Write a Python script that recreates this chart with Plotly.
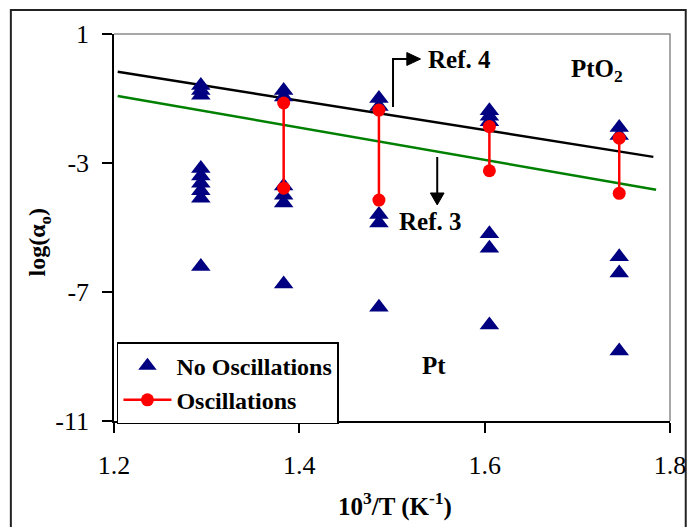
import plotly.graph_objects as go

# ---------------- data ----------------
inv_T = [1.2937, 1.3831, 1.4859, 1.6051, 1.7452]          # 10^3/T (K^-1)
no_osc_logs = [                                            # log(alpha_o), no oscillations
    [-0.60, -0.75, -0.90, -3.17, -3.40, -3.63, -3.86, -4.09, -6.21],
    [-0.75, -0.95, -3.71, -4.00, -4.24, -6.75],
    [-1.00, -1.25, -4.60, -4.86, -7.47],
    [-1.38, -1.55, -1.72, -5.19, -5.64, -8.02],
    [-1.90, -2.15, -5.91, -6.41, -8.83],
]
osc_high = [None, -1.14, -1.36, -1.87, -2.23]              # oscillation window upper bound
osc_low = [None, -3.78, -4.15, -3.24, -3.94]               # oscillation window lower bound
ref4_x = [1.204, 1.782]
ref4_y = [-0.17, -2.81]
ref3_x = [1.204, 1.785]
ref3_y = [-0.92, -3.83]
x_ticks = [1.2, 1.4, 1.6, 1.8]
y_ticks = [-11, -7, -3, 1]

FONT = "Times New Roman, Liberation Serif, serif"

# flatten tables
tri_x, tri_y = [], []
for t, vals in zip(inv_T, no_osc_logs):
    for v in vals:
        tri_x.append(t)
        tri_y.append(v)
osc_x, osc_y = [], []
for t, hi, lo in zip(inv_T, osc_high, osc_low):
    if hi is None:
        continue
    osc_x += [t, t, None]
    osc_y += [hi, lo, None]

fig = go.Figure()
fig.add_trace(go.Scatter(x=ref4_x, y=ref4_y, mode="lines", showlegend=False,
                         line=dict(color="black", width=2.5), hoverinfo="skip"))
fig.add_trace(go.Scatter(x=ref3_x, y=ref3_y, mode="lines", showlegend=False,
                         line=dict(color="#008000", width=2.5), hoverinfo="skip"))
fig.add_trace(go.Scatter(x=tri_x, y=tri_y, mode="markers", name="<b>No Oscillations</b>",
                         legendgroup="a",
                         marker=dict(symbol="triangle-up", size=17, color="#000080")))
fig.add_trace(go.Scatter(x=osc_x, y=osc_y, mode="lines+markers", name="<b>Oscillations</b>",
                         legendgroup="b", connectgaps=False,
                         line=dict(color="#FF0000", width=2.5),
                         marker=dict(symbol="circle", size=13, color="#FF0000")))

shapes = [
    # outer frame
    dict(type="rect", xref="paper", yref="paper", x0=-0.1855, x1=1.0283, y0=-0.30, y1=1.062,
         line=dict(color="#222222", width=2), layer="below"),
    # top / right plot borders (grey)
    dict(type="path", xref="paper", yref="paper", path="M0,1 L1,1 L1,0",
         line=dict(color="#8c8c8c", width=1.5)),
    # Ref. 4 bent arrow
    dict(type="path", xref="x", yref="y",
         path="M1.5011,-1.264 L1.5011,0.225 L1.5165,0.225",
         line=dict(color="black", width=2)),
    dict(type="path", xref="x", yref="y",
         path="M1.5160,0.425 L1.5308,0.225 L1.5160,0.025 Z",
         fillcolor="black", line=dict(color="black", width=1)),
    # Ref. 3 down arrow
    dict(type="path", xref="x", yref="y",
         path="M1.5488,-2.814 L1.5488,-3.95",
         line=dict(color="black", width=2)),
    dict(type="path", xref="x", yref="y",
         path="M1.5414,-3.93 L1.5488,-4.30 L1.5562,-3.93 Z",
         fillcolor="black", line=dict(color="black", width=1)),
]

bold = dict(family=FONT, size=25, color="black")
annotations = [
    dict(x=1.5371, y=0.194, xref="x", yref="y", text="<b>Ref. 4</b>", showarrow=False,
         xanchor="left", yanchor="middle", font=bold),
    dict(x=1.5053, y=-4.80, xref="x", yref="y", text="<b>Ref. 3</b>", showarrow=False,
         xanchor="left", yanchor="middle", font=bold),
    dict(x=1.6913, y=-0.12, xref="x", yref="y", text="<b>PtO<sub>2</sub></b>", showarrow=False,
         xanchor="left", yanchor="middle", font=bold),
    dict(x=1.5297, y=-9.29, xref="x", yref="y", text="<b>Pt</b>", showarrow=False,
         xanchor="left", yanchor="middle", font=bold),
    dict(x=-0.134, y=0.4625, xref="paper", yref="paper", text="<b>log(α<sub>o</sub>)</b>",
         showarrow=False, textangle=-90, xanchor="center", yanchor="middle",
         font=dict(family=FONT, size=24, color="black")),
    dict(x=0.505, y=-0.217, xref="paper", yref="paper",
         text="<b>10<sup>3</sup>/T (K<sup>-1</sup>)</b>",
         showarrow=False, xanchor="center", yanchor="middle",
         font=dict(family=FONT, size=25, color="black")),
]

fig.update_layout(
    width=698, height=527,
    margin=dict(l=114, r=18, t=34, b=106),
    paper_bgcolor="white", plot_bgcolor="white",
    font=dict(family=FONT, color="black"),
    shapes=shapes, annotations=annotations,
    showlegend=True,
    legend=dict(x=0.0053, y=0.204, xanchor="left", yanchor="top",
                bgcolor="white", bordercolor="black", borderwidth=1.5,
                font=dict(family=FONT, size=24, color="black"),
                traceorder="grouped", tracegroupgap=0, itemwidth=48),
    xaxis=dict(range=[1.2, 1.8], tickvals=x_ticks, ticktext=[f"{v:.1f}" for v in x_ticks],
               showline=True, linecolor="black", linewidth=1.5, ticks="outside",
               ticklen=10, tickcolor="black", tickwidth=1.5, showgrid=False, zeroline=False,
               tickfont=dict(family=FONT, size=26, color="black"), ticklabelstandoff=10),
    yaxis=dict(range=[-11, 1], tickvals=y_ticks, ticktext=[str(v) for v in y_ticks],
               showline=True, linecolor="black", linewidth=1.5, ticks="outside",
               ticklen=10, tickcolor="black", tickwidth=1.5, showgrid=False, zeroline=False,
               tickfont=dict(family=FONT, size=26, color="black"), ticklabelstandoff=8),
)

fig.write_html("out.html")
